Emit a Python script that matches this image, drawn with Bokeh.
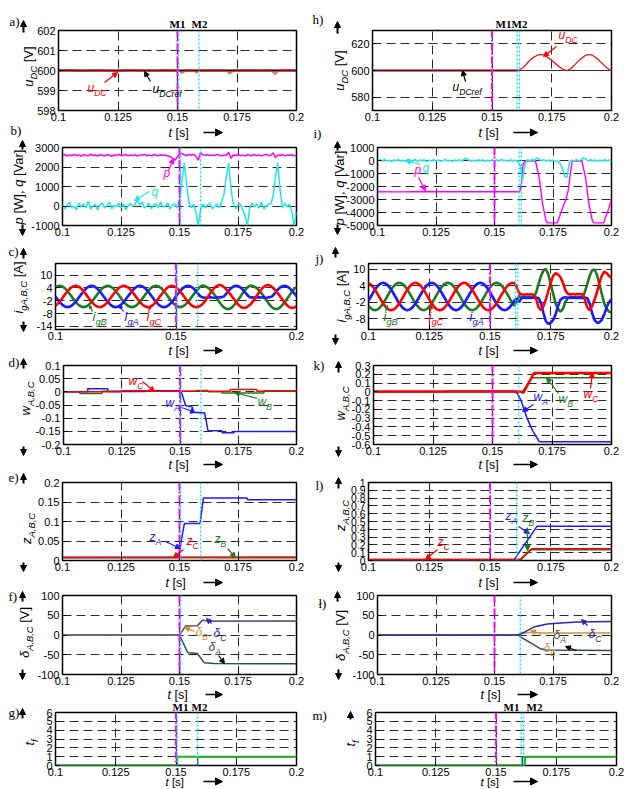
import math
from bokeh.plotting import figure
from bokeh.layouts import column, row
from bokeh.models import Range1d, Label, Arrow, NormalHead, Span, CustomJSTickFormatter, GridBox
from bokeh.embed import file_html
from bokeh.resources import INLINE

# ---------------- data ----------------
X_TICKS = [0.1, 0.125, 0.15, 0.175, 0.2]
X_TICKS_C = [0.1, 0.15, 0.2]
MARK_L = [0.15, 0.1505, 0.159]
MARK_F = [0.15, 0.1505]
MARK_R = [0.15, 0.1605, 0.1615]
MARK_R1 = [0.15, 0.161]

T1 = [round(0.1 + 0.001 * k, 3) for k in range(101)]   # 1 ms sample instants

# a) u_DC
ta = [0.1, 0.105, 0.11, 0.115, 0.12, 0.125, 0.13, 0.135, 0.14, 0.145, 0.1505, 0.152, 0.1535, 0.157, 0.158,
      0.159, 0.165, 0.1705, 0.172, 0.1735, 0.18, 0.1895, 0.191, 0.1925, 0.197, 0.2]
udc_a = [600, 600.02, 599.98, 600.01, 599.99, 599.98, 600.02, 600, 599.99, 600.01, 600, 599.88, 600, 600, 599.88,
         600, 600, 600, 599.85, 600, 600, 600, 599.82, 600, 600.02, 599.98]
tref = [0.1, 0.2]
uref = [600, 600]
# h) u_DC
th = [0.1, 0.161, 0.163, 0.165, 0.167, 0.169, 0.1705, 0.172, 0.174, 0.176, 0.178, 0.18, 0.1815, 0.183, 0.185,
      0.187, 0.189, 0.1905, 0.192, 0.194, 0.196, 0.198, 0.1995, 0.2]
udc_h = [600, 600, 602, 606, 609.5, 611.5, 612, 611.5, 609, 606, 603, 600.5, 600, 601.5, 605, 608.5, 611.3, 612,
         611.5, 609, 605.5, 602, 600.3, 600]

# b) p, q
p_b = [2600, 2640, 2560, 2620, 2580, 2650, 2590, 2610, 2550, 2630,
       2600, 2570, 2660, 2590, 2620, 2560, 2640, 2600, 2580, 2630,
       2610, 2550, 2620, 2590, 2650, 2580, 2600, 2640, 2570, 2610,
       2590, 2630, 2560, 2620, 2600, 2650, 2580, 2610, 2570, 2640,
       2600, 2580, 2630, 2590, 2610, 2560, 2540, 2450, 2350, 2500,
       2650, 2700, 2620, 2580, 2640, 2600, 2650, 2550, 2350, 2750,
       2620, 2600, 2640, 2580, 2620, 2590, 2650, 2600, 2570, 2620,
       2600, 2750, 2450, 2620, 2590, 2640, 2580, 2610, 2560, 2630,
       2600, 2580, 2640, 2590, 2620, 2570, 2610, 2650, 2590, 2600,
       2720, 2480, 2620, 2590, 2640, 2570, 2610, 2600, 2630, 2580,
       2600]
q_b = [100, -150, 50, 200, -100, 0, -200, 150, -50, 100,
       -100, 250, -150, 0, 100, -200, 50, 150, -100, 0,
       200, -150, 50, -50, 150, -100, 100, -200, 0, 150,
       -50, 100, 300, 50, 200, -100, 0, 150, -150, 50,
       100, -100, 200, -50, 0, 150, -150, 50, 100, -100,
       300, 1200, 2200, 1200, 200, -100, 100, -300, -1000, -200,
       100, -100, 50, 150, -150, 0, 100, -100, 200, 600,
       1500, 2200, 900, 100, -150, 50, 100, -200, -500, -1000,
       -100, 150, -50, 100, -100, 200, -150, 0, 100, 100,
       500, 1500, 2200, 800, -100, 150, -50, 100, -300, -1000,
       -300]

# i) p, q
tp_i = [0.1, 0.11, 0.12, 0.13, 0.14, 0.15, 0.1608, 0.1615, 0.1622, 0.163, 0.1675, 0.169, 0.1705, 0.172, 0.1727,
        0.1768, 0.1778, 0.179, 0.1805, 0.1815, 0.1825, 0.1832, 0.1873, 0.1888, 0.1903, 0.1918, 0.1925, 0.1966,
        0.1976, 0.199, 0.2]
p_i = [-2400, -2410, -2390, -2405, -2395, -2400, -2400, -1800, -300, -30, -40, -1200, -3300, -4600, -4800,
       -4800, -4300, -3700, -3000, -2300, -900, -30, -40, -1200, -3300, -4600, -4800, -4800, -4300, -3600, -3000]
q_i = [0, 60, -40, 80, -60, 20, -80, 50, -20, 70, -50, 30, -70, 60, 0, -40, 80, -60, 40, -20,
       60, -80, 20, -30, 70, -50, 40, -60, 10, 80, -40, 30, -70, 50, -20, 60, -50, 100, 150, 40,
       -60, 30, -40, 70, -20, 50, -70, 20, -50, 60, -30, 40, -60, 80, -20, 30, -50, 60, -40, 20,
       -80, -400, -1500, -300, 60, -40, 80, -20, 200, 100,
       -30, 60, -50, 40, -60, 30, -40, -60, -200, -600,
       -1200, -1300, -150, 40, -60, 70, -30, 50, 200, 120,
       -40, 60, -20, 50, -70, 30, -40, 60, -20, 40,
       -30]

# c) grid currents
iA_c = [0, -1.55, -2.94, -4.05, -4.76, -5, -4.76, -4.05, -2.94, -1.55, 0, 1.55, 2.94, 4.05, 4.76, 5, 4.76, 4.05, 2.94, 1.55,
        0, -1.55, -2.94, -4.05, -4.76, -5, -4.76, -4.05, -2.94, -1.55, 0, 1.55, 2.94, 4.05, 4.76, 5, 4.76, 4.05, 2.94, 1.55,
        0, -1.55, -2.94, -4.05, -4.76, -5, -4.76, -4.05, -2.94, -1.55, 0,
        1.55, 2.94, 4.05, 4.76, 5, 4.76, 4.05, 2.94, 1.55, 0.2,
        -0.4, -0.6, -0.5, -0.3, -0.5, -0.6, -0.4, -0.5, -0.3, 0.1,
        1.55, 2.94, 4.05, 4.76, 5, 4.76, 4.05, 2.94, 1.55, 0.2,
        -0.5, -0.4, -0.6, -0.3, -0.5, -0.4, -0.6, -0.5, -0.3, 0.1,
        1.55, 2.94, 4.05, 4.76, 5, 4.76, 4.05, 2.94, 1.55, 0.2]
iB_c = [4.33, 4.89, 4.97, 4.57, 3.72, 2.5, 1.04, -0.52, -2.03, -3.35, -4.33, -4.89, -4.97, -4.57, -3.72, -2.5, -1.04, 0.52, 2.03, 3.35,
        4.33, 4.89, 4.97, 4.57, 3.72, 2.5, 1.04, -0.52, -2.03, -3.35, -4.33, -4.89, -4.97, -4.57, -3.72, -2.5, -1.04, 0.52, 2.03, 3.35,
        4.33, 4.89, 4.97, 4.57, 3.72, 2.5, 1.04, -0.52, -2.03, -3.35, -4.33, -4.89, -4.97, -4.57, -3.72, -2.5, -1.04, 0.52, 2.03, 3.35,
        4.6, 5.1, 4.9, 4.3, 3.4, 2.2, 0.8, -0.9, -2.6, -4.1, -5.2, -5.8, -5.9, -5.3, -4.2, -2.8, -1.2, 0.4, 2.1, 3.5,
        4.6, 5.1, 4.9, 4.3, 3.4, 2.2, 0.8, -0.9, -2.6, -4.1, -5.2, -5.8, -5.9, -5.3, -4.2, -2.8, -1.2, 0.4, 2.1, 3.5,
        4.5]
iC_c = [-4.33, -3.35, -2.03, -0.52, 1.04, 2.5, 3.72, 4.57, 4.97, 4.89, 4.33, 3.35, 2.03, 0.52, -1.04, -2.5, -3.72, -4.57, -4.97, -4.89,
        -4.33, -3.35, -2.03, -0.52, 1.04, 2.5, 3.72, 4.57, 4.97, 4.89, 4.33, 3.35, 2.03, 0.52, -1.04, -2.5, -3.72, -4.57, -4.97, -4.89,
        -4.33, -3.35, -2.03, -0.52, 1.04, 2.5, 3.72, 4.57, 4.97, 4.89, 4.33, 3.35, 2.03, 0.52, -1.04, -2.5, -3.72, -4.57, -4.97, -4.89,
        -4.5, -3.6, -2.3, -0.6, 1.2, 2.8, 4.1, 5.0, 5.4, 5.2, 4.3, 3.2, 1.9, 0.4, -1.2, -2.8, -4.0, -5.0, -5.4, -5.2,
        -4.5, -3.6, -2.3, -0.6, 1.2, 2.8, 4.1, 5.0, 5.4, 5.2, 4.3, 3.2, 1.9, 0.4, -1.2, -2.8, -4.0, -5.0, -5.4, -5.2,
        -4.5]

# j) grid currents
iA_j = [-1.55, 0, 1.55, 2.94, 4.05, 4.76, 5, 4.76, 4.05, 2.94, 1.55, 0, -1.55, -2.94, -4.05, -4.76, -5, -4.76, -4.05, -2.94,
        -1.55, 0, 1.55, 2.94, 4.05, 4.76, 5, 4.76, 4.05, 2.94, 1.55, 0, -1.55, -2.94, -4.05, -4.76, -5, -4.76, -4.05, -2.94,
        -1.55, 0, 1.55, 2.94, 4.05, 4.76, 5, 4.76, 4.05, 2.94, 1.55, 0, -1.55, -2.94, -4.05, -4.76, -5, -4.76, -4.05, -2.94,
        -1.55,
        -0.8, -2.0, -0.6, -0.3, -0.4, -0.3, -0.5, -0.3, -0.4, -0.6, -2.5, -6, -9, -10, -9.6, -8.5, -6.5, -3.5, -1.2, -0.5,
        -0.3, -0.5, -0.4, -0.3, -0.5, -0.4, -0.3, -0.5, -0.4, -0.6, -2.5, -6, -8.5, -9.5, -9.4, -8.5, -6.5, -4, -2, -1]
iB_j = [-3.35, -4.33, -4.89, -4.97, -4.57, -3.72, -2.5, -1.04, 0.52, 2.03, 3.35, 4.33, 4.89, 4.97, 4.57, 3.72, 2.5, 1.04, -0.52, -2.03,
        -3.35, -4.33, -4.89, -4.97, -4.57, -3.72, -2.5, -1.04, 0.52, 2.03, 3.35, 4.33, 4.89, 4.97, 4.57, 3.72, 2.5, 1.04, -0.52, -2.03,
        -3.35, -4.33, -4.89, -4.97, -4.57, -3.72, -2.5, -1.04, 0.52, 2.03, 3.35, 4.33, 4.89, 4.97, 4.57, 3.72, 2.5, 1.04, -0.52, -2.03,
        -3.35,
        -1.5, 0.3, -0.5, -0.3, -0.6, -0.4, -0.5, -0.3, 1.5, 4.5, 7.5, 9.5, 10, 8, 4.5, 1, -2.5, -4.5, -5.5, -4.5,
        -2, -0.6, -0.4, -0.5, -0.3, -0.5, -0.4, -0.5, 1.5, 4.5, 7.5, 9.5, 9.8, 8, 4.5, 1, -2.5, -4.5, -5.5, -5.8]
iC_j = [4.89, 4.33, 3.35, 2.03, 0.52, -1.04, -2.5, -3.72, -4.57, -4.97, -4.89, -4.33, -3.35, -2.03, -0.52, 1.04, 2.5, 3.72, 4.57, 4.97,
        4.89, 4.33, 3.35, 2.03, 0.52, -1.04, -2.5, -3.72, -4.57, -4.97, -4.89, -4.33, -3.35, -2.03, -0.52, 1.04, 2.5, 3.72, 4.57, 4.97,
        4.89, 4.33, 3.35, 2.03, 0.52, -1.04, -2.5, -3.72, -4.57, -4.97, -4.89, -4.33, -3.35, -2.03, -0.52, 1.04, 2.5, 3.72, 4.57, 4.97,
        4.89,
        3.5, 1.2, 0.8, 0.6, 0.8, 0.7, 0.8, 0.6, -1, -4, -5, -3.5, -1, 2, 5, 7.5, 8.5, 8, 7, 5,
        2.3, 1, 0.7, 0.9, 0.7, 0.9, 0.8, 0.9, -1, -4, -5, -3.5, -1.3, 1.5, 5, 7.5, 9, 8.5, 7.5, 6.8]

# d) w
twA_d = [0.1, 0.1104, 0.1104, 0.119, 0.119, 0.135, 0.135, 0.1504, 0.1524, 0.1554, 0.1556, 0.1606, 0.162, 0.1679,
         0.1681, 0.1731, 0.1733, 0.2]
wA_d = [0, 0, 0.012, 0.012, 0.001, 0.001, 0.004, 0.004, -0.052, -0.058, -0.078, -0.08, -0.147, -0.148, -0.155,
        -0.155, -0.151, -0.151]
twB_d = [0.1, 0.107, 0.107, 0.1165, 0.1165, 0.157, 0.157, 0.162, 0.162, 0.168, 0.168, 0.186, 0.186, 0.2]
wB_d = [0, 0, -0.006, -0.006, 0.002, 0.002, 0.005, 0.005, 0, 0, -0.004, -0.004, 0.004, 0.004]
twC_d = [0.1, 0.125, 0.125, 0.135, 0.135, 0.1715, 0.1715, 0.183, 0.183, 0.2]
wC_d = [0, 0, 0.004, 0.004, 0.002, 0.002, 0.009, 0.009, 0.002, 0.002]
# k) w
twA_k = [0.1, 0.13, 0.13, 0.159, 0.1605, 0.162, 0.1645, 0.167, 0.1695, 0.17, 0.2]
wA_k = [0.002, 0.002, 0.006, 0.006, -0.02, -0.1, -0.3, -0.45, -0.56, -0.57, -0.57]
twB_k = [0.1, 0.1615, 0.1625, 0.1665, 0.2]
wB_k = [0, 0, -0.005, 0.16, 0.16]
twC_k = [0.1, 0.1615, 0.163, 0.1675, 0.2]
wC_k = [0.005, 0.005, -0.01, 0.215, 0.215]

# e) z
tzA_e = [0.1, 0.1497, 0.1503, 0.1521, 0.1588, 0.1602, 0.1789, 0.1791, 0.2]
zA_e = [0.008, 0.008, 0.035, 0.095, 0.095, 0.16, 0.16, 0.156, 0.156]
tzB_e = [0.1, 0.2]
zB_e = [0.008, 0.009]
tzC_e = [0.1, 0.2]
zC_e = [0.008, 0.007]
# l) z
tzA_l = [0.1, 0.1598, 0.1694, 0.2]
zA_l = [0.005, 0.005, 0.44, 0.44]
tzB_l = [0.1, 0.1625, 0.1668, 0.2]
zB_l = [0.01, 0.01, 0.14, 0.14]
tzC_l = [0.1, 0.1625, 0.1674, 0.2]
zC_l = [0.012, 0.012, 0.15, 0.15]

# f) delta
tdA_f = [0.1, 0.15, 0.1535, 0.1577, 0.1605, 0.165, 0.2]
dA_f = [0, 0, -45, -47, -70, -72, -73]
tdB_f = [0.1, 0.15, 0.1526, 0.1577, 0.1598, 0.163, 0.2]
dB_f = [0, 0, 22, 23, 37, 35, 36]
tdC_f = [0.1, 0.15, 0.1526, 0.1577, 0.1598, 0.163, 0.2]
dC_f = [0, 0, 23, 24, 38, 35, 35]
# ł) delta
tdU_l = [0.1, 0.16, 0.163, 0.1668, 0.1725, 0.18, 0.1853, 0.2]
dU_l = [0, 0, 8, 20, 28, 31, 33, 34]
tdM_l = [0.1, 0.16, 0.163, 0.166, 0.17, 0.2]
dM_l = [0, 0, 5, 7, 5, 5]
tdD_l = [0.1, 0.16, 0.162, 0.166, 0.1697, 0.172, 0.2]
dD_l = [0, 0, -8, -22, -35, -38, -39]

# g), m) t_f
ttf_g = [0.1, 0.1505, 0.1505, 0.2]
tf_g = [0, 0, 1, 1]
ttf2_g = [0.1, 0.159, 0.159, 0.2]
tf2_g = [0, 0, 1, 1]
ttf_m = [0.1, 0.162, 0.162, 0.2]
tf_m = [0, 0, 1, 1]
ttf2_m = [0.1, 0.1609, 0.1609, 0.2]
tf2_m = [0, 0, 1, 1]

# ---------------- layout helpers ----------------
W, H = 624, 789
COLS = {"L": (0, 312), "R": (312, 624)}
ROWS = [(0, 139), (139, 244), (244, 357), (357, 472), (472, 588), (588, 702), (702, 789)]

RED = "#ff0000"
BLUE = "#1a1aff"
GREEN = "#1e7a1e"
MAG = "#ff00ff"
CYAN = "#22e5e5"
SLATE = "#2f4f4f"
TAN = "#c8963c"
DBLUE = "#2828b0"
SANS = "Liberation Sans"
SERIF = "Liberation Serif"


def panel(col, ri, frame, yr, yticks, xticks=X_TICKS, ytick_size="11px"):
    cx0, cx1 = COLS[col]
    ry0, ry1 = ROWS[ri]
    fx0, fx1, fy0, fy1 = frame
    p = figure(width=cx1 - cx0, height=ry1 - ry0, x_range=Range1d(0.1, 0.2), y_range=Range1d(*yr),
               output_backend="svg", toolbar_location=None, tools="", title=None,
               min_border_left=fx0 - cx0, min_border_right=cx1 - fx1,
               min_border_top=fy0 - ry0, min_border_bottom=ry1 - fy1)
    p.background_fill_color = "white"
    p.border_fill_color = "white"
    p.outline_line_color = "black"
    p.outline_line_width = 1.5
    p.xaxis.ticker = xticks
    p.yaxis.ticker = yticks
    fmt = "return String(tick);"
    p.xaxis.formatter = CustomJSTickFormatter(code=fmt)
    p.yaxis.formatter = CustomJSTickFormatter(code=fmt)
    for ax in (p.xaxis[0], p.yaxis[0]):
        ax.axis_line_color = None
        ax.major_tick_in = 4
        ax.major_tick_out = 0
        ax.minor_tick_line_color = None
        ax.major_tick_line_color = "black"
        ax.major_label_text_font = SANS
        ax.major_label_text_color = "black"
        ax.major_label_standoff = 3
    p.xaxis.major_label_text_font_size = "11px"
    p.yaxis.major_label_text_font_size = ytick_size
    p.xaxis.major_label_standoff = 2
    p.xgrid.ticker = [t for t in xticks if 0.1 < t < 0.2]
    p.ygrid.ticker = [t for t in yticks if yr[0] < t < yr[1]]
    for g in (p.xgrid[0], p.ygrid[0]):
        g.grid_line_color = "#2a2a2a"
        g.grid_line_dash = "9 5"
        g.grid_line_width = 1
    return p


def marks(p, locs):
    p.add_layout(Span(location=locs[0], dimension="height", line_color=MAG, line_width=2, line_dash="7 2 2 2"))
    for x in locs[1:]:
        p.add_layout(Span(location=x, dimension="height", line_color="#00e0ff", line_width=1.3, line_dash="2 2"))


# transparent overlay (page pixel coordinates) carrying all titles / annotations
ov = figure(width=W, height=H, x_range=Range1d(0, W), y_range=Range1d(0, H), output_backend="svg",
            toolbar_location=None, tools="", title=None, x_axis_type=None, y_axis_type=None,
            min_border_left=0, min_border_right=0, min_border_top=0, min_border_bottom=0)
ov.background_fill_color = None
ov.border_fill_color = None
ov.outline_line_color = None


def put(X, Y, text, fs, color="black", style="normal", font=SANS, angle=0.0, align="left"):
    # (X, Y): left end of the baseline, page pixels
    if angle == 0:
        ax, ay = X, Y - 0.3 * fs
    else:
        ax, ay = X - 0.3 * fs, Y
    ov.add_layout(Label(x=ax, y=H - ay, text=text, text_font=font, text_font_size="%.1fpx" % fs,
                        text_color=color, text_font_style=style, angle=angle,
                        text_align=align, text_baseline="middle"))


CW = {' ': 0.278, '[': 0.278, ']': 0.278, ',': 0.278, '.': 0.278, 'A': 0.667, 'B': 0.667, 'C': 0.722,
      'D': 0.722, 'V': 0.667, 'W': 0.944, 'M': 0.833, 'a': 0.556, 'c': 0.5, 'e': 0.556, 'f': 0.278,
      'g': 0.556, 'i': 0.222, 'p': 0.556, 'q': 0.556, 'r': 0.333, 's': 0.5, 't': 0.278, 'u': 0.556,
      'w': 0.722, 'z': 0.5}


def tw(s, fs):
    return sum(CW.get(ch, 0.556) for ch in s) * fs


def rich(X, Y, parts, size=12, color="black", vertical=False):
    pos = 0.0
    for text, kind in parts:
        sub = kind.startswith("s")
        fs = size * 0.72 if sub else size
        style = "italic" if kind.endswith("i") else "normal"
        off = size * 0.3 if sub else 0.0
        lead = len(text) - len(text.lstrip(" "))
        core = text.strip(" ")
        trail = len(text) - lead - len(core)
        pos += tw(" " * lead, fs)
        if vertical:
            put(X + off, Y - pos, core, fs, color, style, angle=math.pi / 2)
        else:
            put(X + pos, Y + off, core, fs, color, style)
        pos += tw(core, fs) + tw(" " * trail, fs)
    return pos


def rich_len(parts, size):
    return sum(tw(t, size * 0.72 if k.startswith("s") else size) for t, k in parts)


def vlabel(Xc, Yc, parts, size=13):
    L = rich_len(parts, size)
    rich(Xc + 0.3 * size, Yc + L / 2, parts, size, vertical=True)


def arrow(X0, Y0, X1, Y1, color="black", size=6, width=1.2):
    ov.add_layout(Arrow(end=NormalHead(size=size, fill_color=color, line_color=color, line_width=1),
                        x_start=X0, y_start=H - Y0, x_end=X1, y_end=H - Y1, line_color=color, line_width=width))


def tlabel(X, Yb, ax0, ax1, size=12.5):
    rich(X, Yb, [("t", "i"), (" [s]", "n")], size)
    arrow(ax0, Yb - 4, ax1, Yb - 4, size=7, width=1.5)


def letter(X, Yb, s):
    put(X, Yb, s, 13, font=SERIF)


def mlabel(X, Yb, s):
    put(X, Yb, s, 11, style="bold", font=SERIF, align="center")


# ---------------- panels ----------------
pa = panel("L", 0, (58, 296, 30, 110), (598, 602), [598, 599, 600, 601, 602])
ph = panel("R", 0, (372, 611, 30, 110), (570, 630), [580, 600, 620])
pb = panel("L", 1, (62, 296, 147, 225), (-1000, 3000), [-1000, 0, 1000, 2000, 3000])
pi_ = panel("R", 1, (377, 611, 147, 225), (-5000, 1000), [-5000, -4000, -3000, -2000, -1000, 0, 1000])
pc = panel("L", 2, (55, 296, 248, 330), (-15.5, 15.5), [-14, -8, -2, 4, 10], xticks=X_TICKS_C)
pj = panel("R", 2, (368, 611, 263, 329), (-12, 12), [-8, -2, 4, 10])
pd = panel("L", 3, (63, 296, 365, 445), (-0.2, 0.1), [-0.2, -0.15, -0.1, -0.05, 0, 0.05, 0.1])
pk = panel("R", 3, (373, 611, 365, 444), (-0.6, 0.3), [-0.6, -0.5, -0.4, -0.3, -0.2, -0.1, 0, 0.1, 0.2, 0.3])
pe = panel("L", 4, (62, 296, 482, 560), (0, 0.2), [0, 0.05, 0.1, 0.15, 0.2])
pl = panel("R", 4, (368, 611, 482, 560), (0, 1), [0, 0.1, 0.2, 0.3, 0.4, 0.5, 0.6, 0.7, 0.8, 0.9, 1],
           ytick_size="10.5px")
pf = panel("L", 5, (62, 296, 595, 674), (-100, 100), [-100, -50, 0, 50, 100])
pL = panel("R", 5, (377, 611, 595, 675), (-100, 100), [-100, -50, 0, 50, 100])
pg = panel("L", 6, (55, 296, 712, 765), (0, 6), [0, 1, 2, 3, 4, 5, 6])
pm = panel("R", 6, (375, 616, 712, 765), (0, 6), [0, 1, 2, 3, 4, 5, 6])

# ---- glyphs ----
pa.line(tref, uref, line_color="black", line_width=2)
pa.line(ta, udc_a, line_color=RED, line_width=2, line_alpha=0.6)
ph.line(tref, uref, line_color="#333333", line_width=1)
ph.line(th, udc_h, line_color=RED, line_width=1.2)
ph.line([0.1, 0.161], [600, 600], line_color="#700000", line_width=2)

pb.line(T1, q_b, line_color=CYAN, line_width=1.5)
pb.line(T1, p_b, line_color=MAG, line_width=1.5)
pi_.line(tp_i, p_i, line_color=MAG, line_width=1.4)
pi_.line(T1, q_i, line_color=CYAN, line_width=1.5)

pc.line(T1, iB_c, line_color=GREEN, line_width=2.6)
pc.line(T1, iA_c, line_color=BLUE, line_width=2.6)
pc.line(T1, iC_c, line_color=RED, line_width=2.6)
pj.line(T1, iB_j, line_color=GREEN, line_width=2.6)
pj.line(T1, iA_j, line_color=BLUE, line_width=2.6)
pj.line(T1, iC_j, line_color=RED, line_width=2.6)

pd.line(twB_d, wB_d, line_color=GREEN, line_width=1.5)
pd.line(twA_d, wA_d, line_color=BLUE, line_width=1.5)
pd.line(twC_d, wC_d, line_color=RED, line_width=1.5)
pk.line(twA_k, wA_k, line_color=BLUE, line_width=1.5)
pk.line(twB_k, wB_k, line_color=GREEN, line_width=1.5)
pk.line(twC_k, wC_k, line_color=RED, line_width=2.5)

pe.line(tzA_e, zA_e, line_color=BLUE, line_width=1.5)
pe.line(tzB_e, zB_e, line_color=GREEN, line_width=1.5)
pe.line(tzC_e, zC_e, line_color=RED, line_width=1.5)
pl.line(tzA_l, zA_l, line_color=BLUE, line_width=1.5)
pl.line(tzB_l, zB_l, line_color=GREEN, line_width=2)
pl.line(tzC_l, zC_l, line_color=RED, line_width=1.5)

pf.line(tdA_f, dA_f, line_color=SLATE, line_width=1.5)
pf.line(tdB_f, dB_f, line_color=TAN, line_width=1.5)
pf.line(tdC_f, dC_f, line_color=DBLUE, line_width=1.2, line_alpha=0.8)
pL.line(tdD_l, dD_l, line_color=SLATE, line_width=1.5)
pL.line(tdM_l, dM_l, line_color=TAN, line_width=1.5)
pL.line(tdU_l, dU_l, line_color=DBLUE, line_width=1.5)

pg.line(ttf2_g, tf2_g, line_color=SLATE, line_width=1.5)
pg.line(ttf_g, tf_g, line_color="#22b022", line_width=2)
pm.line(ttf2_m, tf2_m, line_color=SLATE, line_width=1.5)
pm.line(ttf_m, tf_m, line_color="#22b022", line_width=2)

for p_ in (pa, pb, pc, pd, pe, pg):
    marks(p_, MARK_L)
marks(pf, MARK_F)
for p_ in (ph, pi_, pj, pm):
    marks(p_, MARK_R)
for p_ in (pk, pl, pL):
    marks(p_, MARK_R1)

# ---- texts ----
# a
letter(9, 25, "a)")
arrow(23, 32, 23, 20, size=6, width=2)
vlabel(28, 66, [("u", "i"), ("DC", "si"), (" [V]", "n")])
mlabel(177, 27, "M1")
mlabel(199, 27, "M2")
rich(87, 91, [("u", "i"), ("DC", "si")], 12, RED)
arrow(104, 82, 117, 72, RED, size=5)
rich(152, 92, [("u", "i"), ("DCref", "si")], 12)
arrow(150, 81, 144, 71, size=5)
tlabel(168, 136, 203, 222)
# h
letter(312, 23, "h)")
arrow(337, 33, 337, 21, size=6, width=2)
vlabel(339, 70, [("u", "i"), ("DC", "si"), (" [V]", "n")])
mlabel(511, 27, "M1M2")
rich(558, 38, [("u", "i"), ("DC", "si")], 12, RED)
arrow(556, 46, 543, 56, RED, size=5)
rich(452, 90, [("u", "i"), ("DCref", "si")], 12)
arrow(465, 81, 462, 70, size=5)
tlabel(478, 136, 513, 537)
# b
letter(10, 134, "b)")
arrow(22, 149, 22, 140, size=6, width=2)
arrow(22, 224, 22, 235, size=6, width=2)
vlabel(18, 186, [("p", "i"), (" [W], ", "n"), ("q", "i"), (" [Var]", "n")], 13)
put(163, 176, "p", 12, MAG, "italic")
arrow(168, 170, 173, 158, MAG, size=5)
put(151, 195, "q", 12, CYAN, "italic")
arrow(149, 191, 134, 200, CYAN, size=5)
# i
letter(313, 137, "i)")
arrow(337, 150, 337, 141, size=6, width=2)
arrow(337, 224, 337, 234, size=6, width=2)
vlabel(339, 187, [("p", "i"), (" [W], ", "n"), ("q", "i"), (" [Var]", "n")], 13)
put(414, 173, "p", 12, MAG, "italic")
put(422, 171, "q", 12, CYAN, "italic")
arrow(420, 164, 405, 160, CYAN, size=5)
arrow(418, 177, 425, 190, MAG, size=5)
# c
letter(8, 255, "c)")
arrow(23, 258, 23, 248, size=6, width=2)
arrow(23, 321, 23, 331, size=6, width=2)
vlabel(18, 287, [("i", "i"), ("gA,B,C", "si"), (" [A]", "n")])
rich(92, 320, [("i", "i"), ("gB", "si")], 13, GREEN)
rich(124, 320, [("i", "i"), ("gA", "si")], 13, BLUE)
rich(146, 320, [("i", "i"), ("gC", "si")], 13, RED)
arrow(92, 311, 89, 305, GREEN, size=3)
arrow(123, 311, 119, 305, BLUE, size=3)
arrow(148, 311, 150, 305, RED, size=3)
tlabel(168, 354, 203, 222)
# j
letter(315, 262, "j)")
arrow(335, 257, 335, 247, size=6, width=2)
arrow(335, 334, 335, 344, size=6, width=2)
vlabel(341, 296, [("i", "i"), ("gA,B,C", "si"), (" [A]", "n")])
rich(383, 320, [("i", "i"), ("gB", "si")], 13, GREEN)
rich(428, 320, [("i", "i"), ("gC", "si")], 13, RED)
rich(469, 320, [("i", "i"), ("gA", "si")], 13, BLUE)
arrow(385, 311, 387, 305, GREEN, size=3)
arrow(430, 311, 431, 305, RED, size=3)
tlabel(478, 354, 513, 537)
# d
letter(8, 366, "d)")
arrow(23, 368, 23, 358, size=6, width=2)
arrow(23, 446, 23, 455, size=6, width=2)
vlabel(25, 398, [("w", "i"), ("A,B,C", "si")])
rich(128, 384, [("w", "i"), ("C", "si")], 12, RED)
arrow(142, 381, 154, 391, RED, size=5)
rich(165, 406, [("w", "i"), ("A", "si")], 12, BLUE)
arrow(181, 407, 195, 412, BLUE, size=5)
rich(257, 405, [("w", "i"), ("B", "si")], 12, GREEN)
arrow(257, 398, 234, 392, GREEN, size=5)
tlabel(168, 468, 203, 222)
# k
letter(313, 369, "k)")
arrow(338, 372, 338, 361, size=6, width=2)
arrow(338, 446, 338, 456, size=6, width=2)
vlabel(340, 403, [("w", "i"), ("A,B,C", "si")])
rich(533, 400, [("w", "i"), ("A", "si")], 12, BLUE)
arrow(533, 404, 522, 411, BLUE, size=5)
rich(558, 402, [("w", "i"), ("B", "si")], 12, GREEN)
arrow(558, 393, 546, 377, GREEN, size=5)
rich(583, 397, [("w", "i"), ("C", "si")], 12, RED)
arrow(590, 388, 592, 372, RED, size=5)
tlabel(478, 468, 513, 537)
# e
letter(8, 481, "e)")
arrow(23, 483, 23, 473, size=6, width=2)
arrow(23, 562, 23, 571, size=6, width=2)
vlabel(26, 528, [("z", "i"), ("A,B,C", "si")])
rich(149, 540, [("z", "i"), ("A", "si")], 12, BLUE)
arrow(165, 541, 180, 548, BLUE, size=5)
rich(186, 544, [("z", "i"), ("C", "si")], 12, RED)
arrow(183, 549, 173, 557, RED, size=5)
rich(214, 542, [("z", "i"), ("B", "si")], 12, GREEN)
arrow(227, 548, 235, 557, GREEN, size=5)
tlabel(165, 586, 203, 222)
# l
letter(315, 489, "l)")
arrow(338, 488, 338, 477, size=6, width=2)
arrow(338, 562, 338, 571, size=6, width=2)
vlabel(340, 515, [("z", "i"), ("A,B,C", "si")])
rich(437, 545, [("z", "i"), ("C", "si")], 12, RED)
arrow(437, 549, 425, 559, RED, size=5)
rich(505, 519, [("z", "i"), ("A", "si")], 12, BLUE)
arrow(518, 526, 529, 533, BLUE, size=5)
rich(522, 521, [("z", "i"), ("B", "si")], 12, GREEN)
arrow(527, 527, 527, 550, GREEN, size=5)
tlabel(478, 586, 513, 537)
# f
letter(8, 600, "f)")
arrow(22, 601, 22, 591, size=6, width=2)
arrow(22, 669, 22, 679, size=6, width=2)
vlabel(24, 632, [("δ", "i"), ("A,B,C", "si"), (" [V]", "n")])
rich(195, 635, [("δ", "i"), ("B", "si")], 12, TAN)
arrow(194, 631, 184, 627, TAN, size=5)
rich(213, 636, [("δ", "i"), ("C", "si")], 12, DBLUE)
arrow(211, 623, 206, 618, DBLUE, size=5)
rich(208, 650, [("δ", "i"), ("A", "si")], 12, SLATE)
arrow(218, 655, 224, 663, "black", size=5)
tlabel(167, 698, 205, 222)
# ł
letter(318, 607, "ł)")
arrow(337, 601, 337, 591, size=6, width=2)
arrow(338, 669, 338, 679, size=6, width=2)
vlabel(340, 635, [("δ", "i"), ("A,B,C", "si"), (" [V]", "n")])
rich(553, 638, [("δ", "i"), ("A", "si")], 12, SLATE)
arrow(541, 634, 530, 630, TAN, size=5)
rich(588, 637, [("δ", "i"), ("C", "si")], 12, DBLUE)
arrow(587, 625, 581, 619, DBLUE, size=5)
rich(543, 651, [("δ", "i"), ("B", "si")], 12, TAN)
arrow(576, 650, 565, 646, "black", size=5)
tlabel(480, 698, 517, 537)
# g
letter(8, 716, "g)")
arrow(22, 718, 22, 708, size=6, width=2)
vlabel(29, 742, [("t", "i"), ("f", "si")])
mlabel(180, 710, "M1")
mlabel(199, 710, "M2")
tlabel(165, 785, 203, 222, size=11.5)
# m
letter(312, 719, "m)")
arrow(350, 719, 350, 711, size=6, width=2)
vlabel(350, 743, [("t", "i"), ("f", "si")])
mlabel(511, 710, "M1")
mlabel(534, 710, "M2")
tlabel(480, 785, 513, 537, size=11.5)

main = column(row(pa, ph), row(pb, pi_), row(pc, pj), row(pd, pk), row(pe, pl), row(pf, pL), row(pg, pm))
layout = GridBox(children=[(main, 0, 0), (ov, 0, 0)], spacing=0)
open("out.html", "w").write(file_html(layout, INLINE))
